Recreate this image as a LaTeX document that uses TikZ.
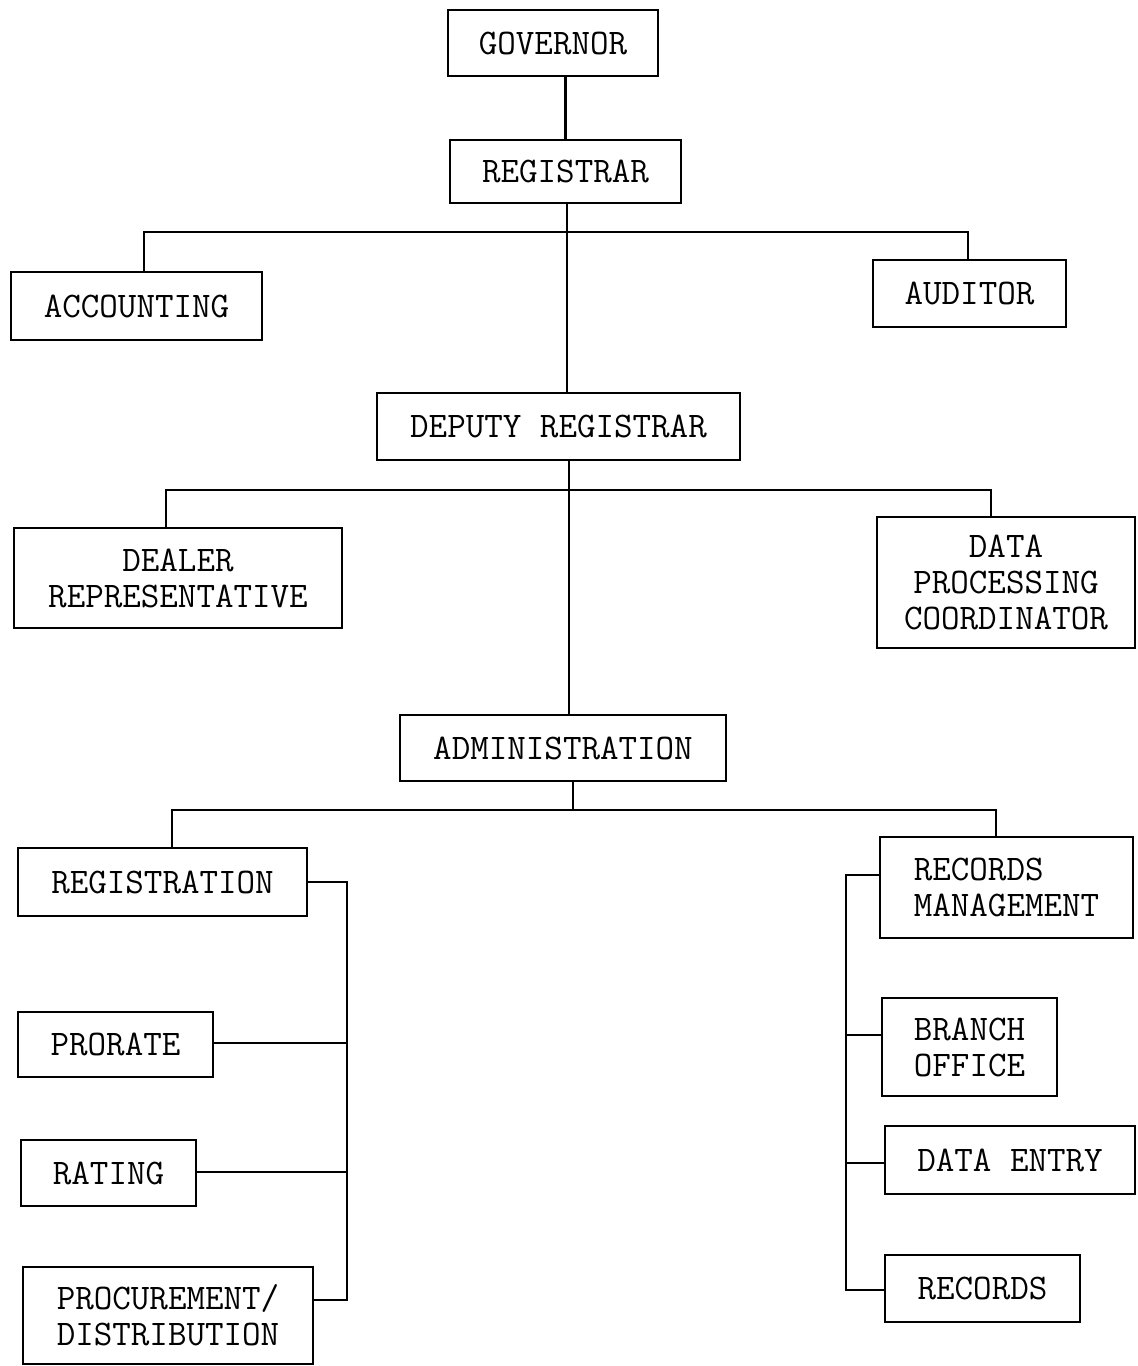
\documentclass[tikz,border=0pt]{standalone}
\usepackage{fontspec}
\begin{document}
\begin{tikzpicture}[x=1pt,y=-1pt,
  box/.style={draw, line width=2.2pt, inner sep=0pt, align=center,
    font=\ttfamily\fontsize{36}{36}\selectfont},
  lbox/.style={box, align=left},
  conn/.style={line width=2.2pt}]
\useasboundingbox (0,0) rectangle (1138,1366);
\fill[white] (0,0) rectangle (1138,1366);
\node[box, minimum width=210, minimum height=66] (gov) at (553,43) {GOVERNOR};
\node[box, minimum width=231, minimum height=63] (reg) at (565.5,171.5) {REGISTRAR};
\node[box, minimum width=251, minimum height=68] (acc) at (136.5,306) {ACCOUNTING};
\node[box, minimum width=193, minimum height=67] (aud) at (969.5,293.5) {AUDITOR};
\node[box, minimum width=363, minimum height=67] (dep) at (558.5,426.5) {DEPUTY REGISTRAR};
\node[box, minimum width=328, minimum height=100] (dea) at (178,578) {DEALER\\REPRESENTATIVE};
\node[box, minimum width=258, minimum height=131] (dpc) at (1006,582.5) {DATA\\PROCESSING\\COORDINATOR};
\node[box, minimum width=326, minimum height=66] (adm) at (563,748) {ADMINISTRATION};
\node[box, minimum width=289, minimum height=68] (rgn) at (162.5,882) {REGISTRATION};
\node[box, minimum width=195, minimum height=65] (pro) at (115.5,1044.5) {PRORATE};
\node[box, minimum width=175, minimum height=66] (rat) at (108.5,1173) {RATING};
\node[box, minimum width=290, minimum height=97] (prc) at (168,1315.5) {PROCUREMENT/\\DISTRIBUTION};
\node[lbox, minimum width=253, minimum height=101] (rm) at (1006.5,887.5) {RECORDS\\MANAGEMENT};
\node[lbox, minimum width=175, minimum height=98] (bo) at (969.5,1047) {BRANCH\\OFFICE};
\node[box, minimum width=250, minimum height=68] (de) at (1010,1160) {DATA ENTRY};
\node[box, minimum width=195, minimum height=67] (rec) at (982.5,1288.5) {RECORDS};

\coordinate (b1) at (567,232);
\coordinate (b2) at (569,490);
\coordinate (b3) at (573,810);
\coordinate (ls) at (347,0);
\coordinate (rs) at (846,0);

\draw[conn] (reg.north) -- (reg.north |- gov.south);
\draw[conn] ([xshift=1.5]reg.south) -- ([xshift=1.5]reg.south |- dep.north);
\draw[conn] ([xshift=7.5]acc.north) |- (b1) -| ([xshift=-1.5]aud.north);
\draw[conn] ([xshift=10.5]dep.south) -- ([xshift=10.5]dep.south |- adm.north);
\draw[conn] ([xshift=-12]dea.north) |- (b2) -| ([xshift=-15]dpc.north);
\draw[conn] ([xshift=10]adm.south) -- (b3);
\draw[conn] ([xshift=9.5]rgn.north) |- (b3) -| ([xshift=-10.5]rm.north);

\draw[conn] (rgn.east) -- (rgn.east -| ls) -- ([yshift=15.5]prc.east -| ls) -- ([yshift=15.5]prc.east);
\draw[conn] ([yshift=1.5]pro.east) -- ([yshift=1.5]pro.east -| ls);
\draw[conn] ([yshift=1]rat.east) -- ([yshift=1]rat.east -| ls);

\draw[conn] ([yshift=12.5]rm.west) -- ([yshift=12.5]rm.west -| rs) -- ([yshift=-1.5]rec.west -| rs) -- ([yshift=-1.5]rec.west);
\draw[conn] ([yshift=12]bo.west) -- ([yshift=12]bo.west -| rs);
\draw[conn] ([yshift=-3]de.west) -- ([yshift=-3]de.west -| rs);
\end{tikzpicture}
\end{document}
